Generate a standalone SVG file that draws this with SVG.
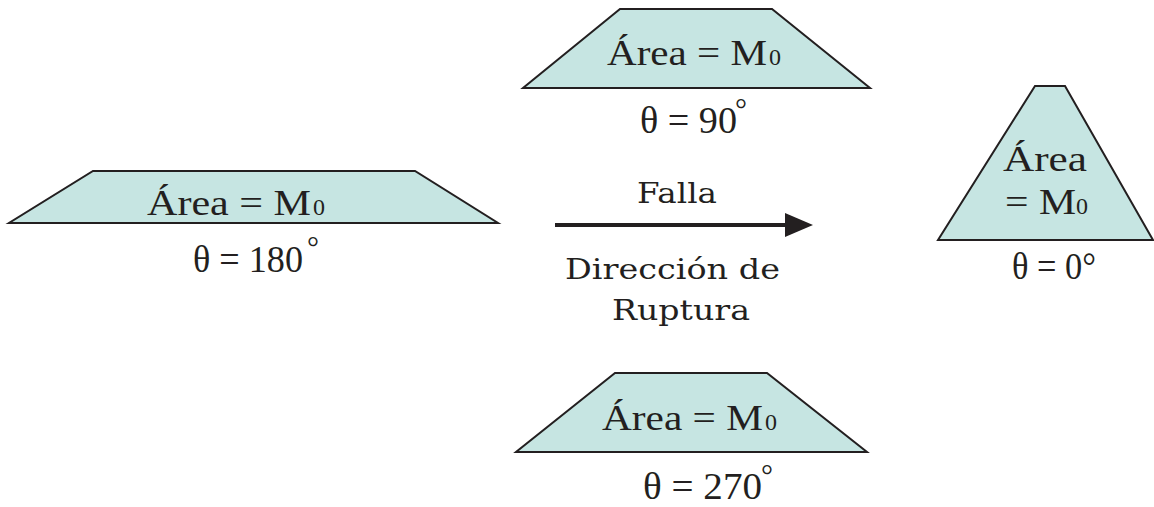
<svg xmlns="http://www.w3.org/2000/svg" width="1154" height="507" viewBox="0 0 1154 507">
<defs>
<style>
.shape{fill:#c6e5e2;stroke:#231f20;stroke-width:2;stroke-linejoin:miter}
.lbl{font-family:"Liberation Serif","Times New Roman",serif;font-size:36px;fill:#231f20}
.sub{font-size:24px}
.th{font-family:"Liberation Serif","Times New Roman",serif;font-size:37px;fill:#231f20}
.deg{font-size:30px}
.cap{font-family:"DejaVu Serif","Liberation Serif",serif;font-size:27px;fill:#231f20}
.conn{stroke:#231f20;stroke-width:4;fill:none}
</style>
<marker id="ah" markerUnits="userSpaceOnUse" markerWidth="30" markerHeight="26" refX="15" refY="12" orient="auto" viewBox="0 0 30 26">
<path d="M0,0 L28,12 L0,24 Z" fill="#231f20"/>
</marker>
</defs>
<rect width="1154" height="507" fill="#ffffff"/>

<g id="node-180">
<polygon class="shape" points="93,171 415,171 498,223 9,223"/>
<text class="lbl"><tspan x="147" y="215" textLength="164" lengthAdjust="spacingAndGlyphs">Área = M</tspan><tspan class="sub" x="313" y="215">0</tspan></text>
<text class="th"><tspan x="193" y="272" textLength="110" lengthAdjust="spacingAndGlyphs">θ = 180</tspan><tspan class="deg" x="307" y="257">°</tspan></text>
</g>

<g id="node-90">
<polygon class="shape" points="620,9 772,9 870,88 523,88"/>
<text class="lbl"><tspan x="607" y="65" textLength="160" lengthAdjust="spacingAndGlyphs">Área = M</tspan><tspan class="sub" x="769" y="65">0</tspan></text>
<text class="th"><tspan x="640" y="133" textLength="97" lengthAdjust="spacingAndGlyphs">θ = 90</tspan><tspan class="deg" x="735" y="119">°</tspan></text>
</g>

<g id="node-270">
<polygon class="shape" points="615,373 767,373 867,452 516,452"/>
<text class="lbl"><tspan x="602" y="430" textLength="161" lengthAdjust="spacingAndGlyphs">Área = M</tspan><tspan class="sub" x="765" y="430">0</tspan></text>
<text class="th" font-size="35"><tspan x="643" y="499" textLength="119" lengthAdjust="spacingAndGlyphs">θ = 270</tspan><tspan class="deg" x="761" y="485">°</tspan></text>
</g>

<g id="node-0">
<polygon class="shape" points="1035,86 1065,86 1153,240 938,240"/>
<text class="lbl"><tspan x="1003" y="171" textLength="84" lengthAdjust="spacingAndGlyphs">Área</tspan><tspan x="1005" y="214" textLength="71" lengthAdjust="spacingAndGlyphs">= M</tspan><tspan class="sub" x="1076" y="214">0</tspan></text>
<text class="th" font-size="33" x="1012" y="279" textLength="84" lengthAdjust="spacingAndGlyphs">θ = 0°</text>
</g>

<g id="connectors">
<line class="conn" x1="555" y1="225" x2="800" y2="225" marker-end="url(#ah)"/>
<text class="cap" x="637" y="203" textLength="80" lengthAdjust="spacingAndGlyphs">Falla</text>
<text class="cap" x="565" y="279" textLength="215" lengthAdjust="spacingAndGlyphs">Dirección de</text>
<text class="cap" x="612" y="320" textLength="138" lengthAdjust="spacingAndGlyphs">Ruptura</text>
</g>
</svg>
